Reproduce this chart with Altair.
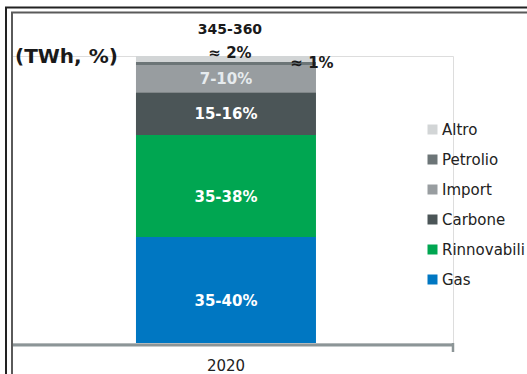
import altair as alt
import pandas as pd

# ---- data ----
year = "2020"
categories = ["Gas", "Rinnovabili", "Carbone", "Import", "Petrolio", "Altro"]
shares = [36.9, 35.6, 14.9, 9.5, 1.0, 2.1]
share_labels = ["35-40%", "35-38%", "15-16%", "7-10%", "≈ 1%", "≈ 2%"]
total_label = "345-360"
unit_label = "(TWh, %)"

colors = ["#0077C2", "#00A651", "#4B5557", "#989DA0", "#6C7577", "#D2D5D6"]
legend_order = categories[::-1]
legend_colors = colors[::-1]

y0, y1, acc = [], [], 0.0
for s in shares:
    y0.append(acc)
    acc += s
    y1.append(acc)

df = pd.DataFrame({
    "year": [year] * len(categories),
    "cat": categories,
    "share": shares,
    "y0": y0,
    "y1": y1,
    "mid": [(a + b) / 2 for a, b in zip(y0, y1)],
    "label": share_labels,
})
top_df = pd.DataFrame({"year": [year], "top": [acc], "label": [total_label]})

FONT = "DejaVu Sans"
W, H = 441, 287

xscale = alt.Scale(paddingInner=0, paddingOuter=0.725, align=0.475)
yscale = alt.Scale(domain=[0, 100], nice=False, zero=True)

base = alt.Chart(df)

bars = base.mark_bar().encode(
    x=alt.X("year:N", scale=xscale, title=None,
            axis=alt.Axis(domainColor="#8C9597", domainWidth=3, offset=1.5,
                          ticks=False, labelAngle=0, labelFont=FONT,
                          labelFontSize=15, labelColor="#222222",
                          labelPadding=14)),
    y=alt.Y("y0:Q", scale=yscale, axis=None),
    y2="y1:Q",
    color=alt.Color("cat:N",
                    scale=alt.Scale(domain=legend_order, range=legend_colors),
                    legend=alt.Legend(title=None, orient="none", legendX=413,
                                      legendY=66, symbolType="square",
                                      symbolSize=100, symbolStrokeWidth=0,
                                      labelFont=FONT, labelFontSize=15,
                                      labelColor="#222222", labelOffset=2,
                                      rowPadding=14, padding=0)),
)

def txt(cats, **kw):
    return base.transform_filter(
        alt.FieldOneOfPredicate(field="cat", oneOf=cats)
    ).mark_text(font=FONT, **kw)

big = txt(["Gas", "Rinnovabili"], fontSize=15, fontWeight="bold",
          color="white", dy=11).encode(x="year:N", y="mid:Q", text="label:N")
carb = txt(["Carbone"], fontSize=15, fontWeight="bold",
           color="white").encode(x="year:N", y="mid:Q", text="label:N")
imp = txt(["Import"], fontSize=15, fontWeight="bold",
          color="#E6EBEE").encode(x="year:N", y="mid:Q", text="label:N")
altro = txt(["Altro"], fontSize=15, fontWeight="bold", color="#1A1A1A",
            dy=-3, dx=4).encode(x="year:N", y="y1:Q", text="label:N")
petr = txt(["Petrolio"], fontSize=15, fontWeight="bold", color="#1A1A1A",
           dx=86).encode(x="year:N", y="mid:Q", text="label:N")

total = alt.Chart(top_df).mark_text(font=FONT, fontSize=14, fontWeight="bold",
                                    color="#1A1A1A", dy=-26, dx=4).encode(
    x="year:N", y="top:Q", text="label:N")

unit = alt.Chart(pd.DataFrame({"t": [unit_label]})).mark_text(
    font=FONT, fontSize=20, fontWeight="bold", color="#1A1A1A",
    align="left", baseline="middle").encode(
    x=alt.value(3), y=alt.value(1), text="t:N")

# decorative frame and axis end tick
rule_kw = dict(strokeCap="butt")
frame = [
    alt.Chart(top_df).mark_rule(color="#222222", strokeWidth=2, **rule_kw).encode(
        x=alt.value(-6), y=alt.value(-49), y2=alt.value(H + 40)),
    alt.Chart(top_df).mark_rule(color="#222222", strokeWidth=2, **rule_kw).encode(
        x=alt.value(-7), x2=alt.value(W + 80), y=alt.value(-48.5)),
    alt.Chart(top_df).mark_rule(color="#5A5A5A", strokeWidth=2, **rule_kw).encode(
        x=alt.value(0), y=alt.value(-44), y2=alt.value(H + 40)),
    alt.Chart(top_df).mark_rule(color="#5A5A5A", strokeWidth=2, **rule_kw).encode(
        x=alt.value(-1), x2=alt.value(W + 80), y=alt.value(-43.5)),
    alt.Chart(top_df).mark_rule(color="#8C9597", strokeWidth=2.5, **rule_kw).encode(
        x=alt.value(W), y=alt.value(H), y2=alt.value(H + 9)),
]

chart = alt.layer(bars, big, carb, imp, altro, petr, total, unit, *frame).properties(
    width=W, height=H,
    autosize=alt.AutoSizeParams(type="none"),
    padding={"left": 12, "top": 56, "right": 527 - 12 - W, "bottom": 374 - 56 - H},
).configure_view(stroke=None).configure(background="white")

chart.save("out.html", embed_options={"renderer": "svg", "actions": False})
